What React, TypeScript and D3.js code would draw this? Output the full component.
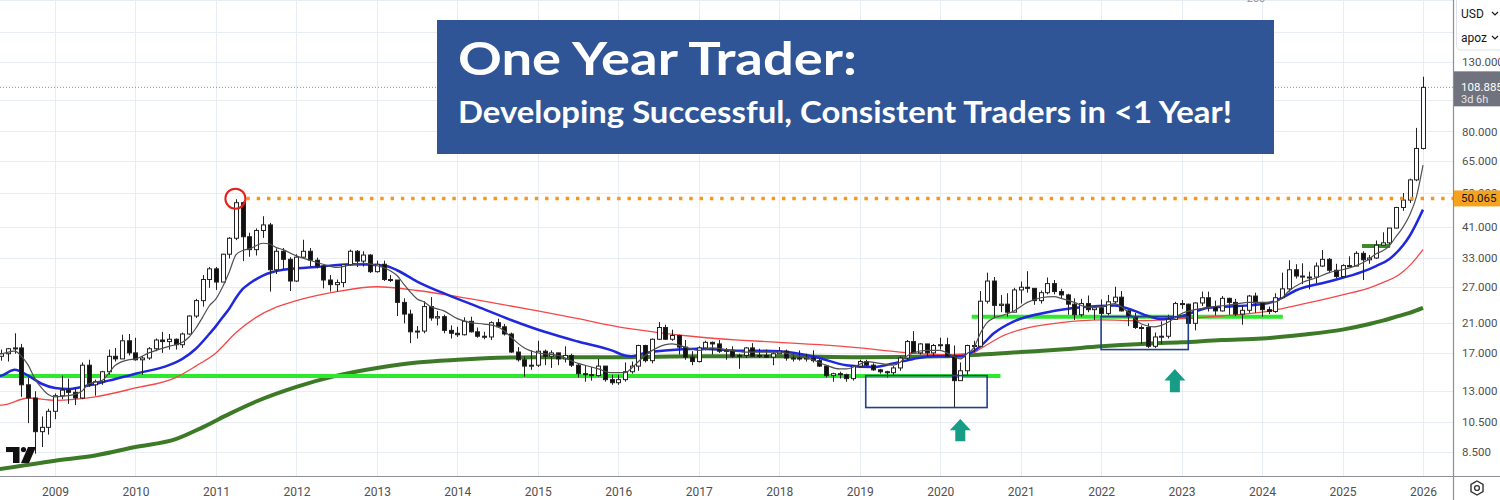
import React, { useEffect, useRef } from 'react';
import * as d3 from 'd3';

const WIDTH = 1500;
const HEIGHT = 500;
const PANE_RIGHT = 1453;
const PANE_BOTTOM = 476;

// Monthly silver candles, Apr 2008 .. Jan 2026. Month index 0 = Jan 2009.
const FIRST_MONTH = -9;
const firstOpen = 17.2;

const closes = [
  16.6, 16.9, 17.5, 17.6, 13.6, 12.4, 9.8, 10.1, 11.3, // 2008 Apr-Dec
  12.6, 13.1, 12.9, 12.4, 15.6, 13.6, 13.9, 14.9, 16.6, 16.3, 18.5, 17.0, // 2009
  16.2, 16.4, 17.5, 18.6, 18.4, 18.7, 18.0, 19.4, 22.0, 24.5, 28.4, 30.6, // 2010
  27.9, 33.9, 37.9, 48.6, 38.3, 35.0, 40.0, 41.6, 30.4, 34.6, 32.7, 28.1, // 2011
  33.2, 34.6, 32.5, 31.2, 28.3, 27.4, 27.8, 31.5, 34.6, 32.3, 33.7, 30.0, // 2012
  31.6, 28.4, 28.3, 24.2, 22.3, 19.7, 19.8, 23.5, 21.7, 21.9, 19.9, 19.5, // 2013
  19.3, 21.2, 19.7, 19.1, 19.0, 21.0, 20.4, 19.4, 17.1, 16.2, 15.5, 15.6, // 2014
  17.2, 16.6, 17.0, 16.3, 16.7, 15.6, 14.7, 14.6, 14.5, 15.5, 14.1, 13.8, // 2015
  14.1, 14.9, 15.5, 17.9, 16.1, 18.7, 20.3, 18.7, 19.2, 17.7, 16.5, 16.0, // 2016
  17.6, 18.3, 18.1, 17.2, 17.3, 16.6, 16.7, 17.6, 16.6, 16.7, 16.5, 16.9, // 2017
  17.2, 16.4, 16.3, 16.4, 16.4, 16.1, 15.5, 14.5, 14.7, 14.6, 14.2, 15.5, // 2018
  16.0, 15.6, 15.1, 14.9, 14.8, 15.3, 16.4, 18.4, 17.0, 18.1, 17.0, 17.9, // 2019
  18.0, 16.6, 14.0, 15.0, 17.9, 17.8, 24.4, 28.1, 23.7, 23.9, 22.6, 26.4, // 2020
  26.9, 26.7, 24.5, 25.9, 27.6, 26.1, 25.5, 23.9, 22.2, 24.0, 23.0, 23.3, // 2021
  22.4, 24.3, 25.1, 22.8, 21.9, 20.3, 20.3, 17.8, 19.0, 19.1, 21.5, 24.0, // 2022
  23.9, 20.9, 24.1, 25.0, 23.5, 22.8, 24.9, 24.2, 22.3, 22.9, 25.3, 24.1, // 2023
  23.0, 22.7, 25.0, 26.6, 30.4, 29.1, 28.9, 28.9, 31.2, 32.7, 30.3, 29.0, // 2024
  31.3, 31.2, 34.1, 32.6, 33.0, 36.1, 36.7, 40.7, 47.0, 49.5, 57.0, 71.0, // 2025
  108.885, // 2026 Jan
];

const highs = [
  18.3, 17.4, 17.6, 19.5, 18.1, 14.3, 13.0, 10.9, 11.5,
  12.8, 14.5, 14.2, 13.3, 15.9, 16.2, 14.1, 15.0, 17.4, 17.6, 19.3, 19.4,
  18.9, 16.6, 17.7, 18.8, 19.7, 19.4, 18.8, 19.6, 22.1, 24.8, 29.3, 31.0,
  31.0, 34.0, 38.2, 49.8, 49.0, 39.4, 40.6, 44.2, 42.2, 35.3, 35.4, 33.2,
  33.9, 37.5, 35.4, 33.1, 31.4, 29.3, 28.4, 31.6, 35.0, 34.9, 34.6, 33.9,
  32.4, 32.4, 29.3, 28.3, 24.9, 23.0, 20.5, 24.4, 25.1, 22.8, 22.2, 20.6,
  20.4, 21.8, 21.9, 20.3, 19.7, 21.2, 21.6, 20.8, 19.6, 17.7, 16.6, 17.3,
  18.5, 17.4, 17.3, 17.0, 17.8, 16.9, 15.8, 15.6, 15.4, 16.3, 15.5, 14.6,
  14.6, 15.9, 16.0, 18.0, 18.0, 18.8, 21.1, 20.7, 20.0, 19.3, 18.6, 17.2,
  17.8, 18.5, 18.4, 18.6, 17.6, 17.8, 16.9, 17.7, 18.2, 17.5, 17.4, 17.1,
  17.7, 17.4, 16.9, 17.3, 16.9, 17.3, 16.3, 15.6, 14.8, 14.9, 14.7, 15.6,
  16.2, 16.2, 15.8, 15.2, 15.0, 15.5, 16.6, 18.6, 19.8, 18.2, 18.1, 18.1,
  18.9, 18.9, 17.9, 15.9, 18.0, 18.5, 26.2, 29.8, 28.9, 25.5, 25.8, 26.8,
  28.0, 30.1, 26.7, 26.3, 28.8, 28.3, 26.6, 25.7, 24.9, 24.8, 25.4, 23.4,
  24.7, 25.5, 27.0, 26.2, 22.9, 22.5, 20.6, 20.9, 19.6, 21.2, 22.2, 24.3,
  24.6, 24.0, 24.2, 26.1, 26.1, 24.5, 25.3, 25.0, 24.8, 23.7, 25.5, 25.9,
  24.3, 23.5, 25.8, 29.8, 32.5, 31.6, 31.8, 30.0, 32.0, 34.9, 33.0, 31.7,
  31.6, 33.4, 34.6, 34.6, 33.7, 37.3, 39.5, 40.7, 47.2, 52.0, 57.5, 82.0,
  117.3,
];

const lows = [
  16.3, 16.1, 16.0, 16.9, 12.5, 10.4, 8.4, 8.8, 9.6,
  10.7, 12.3, 11.9, 11.8, 12.3, 13.4, 12.6, 13.6, 14.6, 16.0, 16.3, 16.7,
  16.1, 14.6, 16.2, 17.2, 17.0, 17.4, 17.4, 17.6, 19.3, 21.7, 23.5, 26.8,
  26.4, 27.9, 32.9, 37.4, 32.3, 33.3, 33.6, 38.0, 26.1, 29.5, 30.5, 26.2,
  27.9, 33.0, 31.1, 30.7, 26.7, 26.1, 26.1, 26.9, 31.2, 31.0, 31.1, 29.7,
  29.8, 28.1, 27.9, 22.0, 20.9, 18.2, 18.8, 19.5, 21.3, 20.6, 19.5, 18.8,
  19.0, 19.2, 19.6, 18.9, 18.7, 18.6, 20.3, 19.2, 17.0, 16.0, 14.4, 15.1,
  15.4, 15.6, 15.3, 15.6, 15.9, 15.4, 14.3, 13.9, 14.0, 14.4, 13.9, 13.6,
  13.6, 13.9, 14.7, 15.0, 15.9, 15.8, 18.6, 18.6, 18.5, 16.8, 16.2, 15.6,
  15.9, 17.3, 16.8, 17.0, 16.2, 16.4, 15.2, 16.4, 16.6, 16.4, 16.4, 15.6,
  16.9, 16.1, 16.0, 16.1, 16.0, 15.9, 15.4, 14.3, 13.9, 14.2, 13.9, 14.0,
  15.4, 15.5, 15.0, 14.7, 14.3, 14.5, 15.0, 16.1, 17.0, 16.8, 16.6, 16.6,
  17.4, 16.5, 11.6, 14.0, 14.6, 17.1, 17.8, 24.0, 21.7, 22.6, 21.9, 22.6,
  24.0, 25.9, 23.8, 24.0, 25.6, 25.6, 24.8, 22.2, 21.4, 21.9, 22.6, 21.4,
  22.0, 22.1, 24.0, 22.7, 20.5, 20.1, 18.1, 17.6, 17.6, 18.1, 18.8, 21.4,
  23.1, 20.4, 19.9, 23.6, 22.7, 22.1, 22.7, 22.2, 22.0, 20.7, 22.5, 22.5,
  21.9, 22.3, 22.5, 24.8, 26.1, 28.6, 27.5, 26.5, 27.7, 31.0, 29.7, 28.7,
  28.8, 31.1, 31.2, 28.3, 31.7, 32.8, 35.9, 36.3, 40.6, 45.9, 48.5, 56.5,
  70.5,
];

// moving averages: [month index, price]
const fastMa = [
  [-9, 16.8], [-8, 16.9], [-6, 17.2], [-5, 16.6], [-4, 15.6], [-3, 14.2], [-2, 13.3], [-1, 12.7],
  [0, 12.5], [2, 12.6], [4, 13.0], [5, 13.7], [7, 14.0], [9, 15.6], [11, 16.2], [12, 16.3],
  [14, 17.0], [17, 17.8], [19, 18.3], [20, 19.0], [21, 20.2], [22, 21.8], [23, 23.6], [24, 24.8],
  [25, 27.0], [26, 30.0], [27, 33.8], [28, 34.8], [29, 35.2], [31, 36.6], [32, 36.4], [33, 35.5],
  [34, 35.0], [36, 33.5], [38, 32.5], [40, 31.6], [42, 30.9], [44, 31.4], [46, 31.8], [48, 31.3],
  [50, 30.2], [51, 29.2], [52, 27.5], [53, 26.0], [54, 24.8], [55, 24.3], [56, 23.5], [58, 22.8],
  [60, 21.6], [62, 21.0], [64, 20.8], [66, 20.4], [67, 19.8], [68, 19.0], [69, 18.2], [70, 17.6],
  [72, 17.0], [75, 16.7], [78, 15.8], [80, 15.4], [81, 15.2], [83, 14.8], [85, 14.8], [86, 15.3],
  [87, 16.0], [88, 16.7], [90, 17.7], [92, 18.1], [94, 17.7], [96, 17.3], [98, 17.6], [100, 17.4],
  [103, 17.1], [108, 17.1], [110, 16.8], [113, 16.2], [115, 15.6], [117, 15.2], [118, 15.2], [120, 15.7],
  [121, 16.0], [123, 15.8], [125, 15.6], [126, 15.9], [127, 16.6], [128, 17.0], [130, 17.3], [132, 17.3],
  [133, 17.0], [134, 16.6], [135, 16.3], [136, 16.9], [137, 17.6], [138, 19.5], [139, 21.0], [140, 21.7],
  [141, 22.0], [143, 22.8], [145, 24.2], [147, 25.0], [149, 25.2], [150, 24.9], [152, 24.2], [154, 23.4],
  [156, 23.5], [158, 24.0], [159, 23.5], [160, 22.6], [161, 21.6], [162, 20.8], [164, 20.4], [165, 20.6],
  [167, 21.7], [168, 22.4], [170, 23.0], [173, 23.5], [176, 23.9], [178, 24.2], [180, 24.2], [182, 24.3],
  [183, 25.0], [184, 26.2], [186, 27.8], [188, 28.7], [190, 29.8], [192, 30.4], [194, 31.3], [196, 32.8],
  [197, 34.0], [198, 34.7], [199, 36.0], [200, 38.4], [201, 40.9], [202, 44.5], [203, 50.5], [204, 63.2],
];

const midMa = [
  [-9, 14.4], [-8, 14.5], [-6, 15.1], [-4, 14.5], [-2, 13.7], [0, 13.3], [2, 13.2], [4, 13.4],
  [8, 14.0], [12, 14.7], [17, 15.6], [19, 16.3], [21, 17.5], [23, 19.4], [24, 20.5], [25, 21.8],
  [26, 23.2], [27, 25.0], [28, 26.6], [29, 27.6], [31, 29.2], [34, 30.4], [39, 31.0], [44, 31.6],
  [49, 31.3], [51, 30.3], [54, 28.0], [59, 25.3], [63, 23.5], [68, 21.4], [73, 19.7], [78, 18.4],
  [83, 17.3], [85, 16.7], [86, 16.6], [88, 17.0], [91, 17.3], [96, 17.5], [101, 17.3], [108, 17.2],
  [113, 16.6], [118, 15.6], [122, 15.4], [125, 15.8], [128, 16.3], [131, 16.6], [135, 16.6], [137, 17.2],
  [138, 17.8], [140, 19.5], [143, 21.2], [148, 22.6], [153, 23.4], [158, 23.7], [161, 22.8], [163, 22.0],
  [165, 21.5], [168, 22.0], [172, 23.3], [178, 23.7], [181, 24.1], [183, 25.0], [185, 26.3], [190, 28.0],
  [195, 30.0], [197, 31.2], [199, 32.8], [201, 36.0], [202, 38.5], [203, 42.0], [204, 46.3],
];

const slowMa = [
  [-9, 11.8], [-8, 11.8], [-4, 12.4], [0, 12.2], [6, 12.5], [12, 13.3], [18, 14.3], [21, 15.5],
  [24, 17.0], [27, 19.6], [30, 21.8], [33, 23.4], [36, 24.5], [42, 26.1], [48, 27.0], [54, 26.3],
  [60, 25.2], [66, 24.0], [72, 22.8], [78, 21.6], [84, 20.4], [90, 19.6], [96, 19.0], [102, 18.6],
  [108, 18.3], [114, 18.0], [120, 17.6], [126, 17.1], [132, 16.8], [135, 16.8], [137, 17.0], [138, 17.5],
  [140, 18.5], [141, 19.0], [144, 20.0], [150, 21.0], [156, 21.4], [162, 21.3], [168, 21.6], [174, 22.0],
  [180, 22.6], [186, 23.9], [192, 25.5], [196, 26.8], [198, 27.8], [200, 29.0], [201, 30.0], [202, 31.3],
  [203, 33.0], [204, 35.0],
];

const longMa = [
  [-9, 7.5], [0, 8.0], [6, 8.3], [12, 8.8], [18, 9.3], [22, 10.1], [26, 11.1], [30, 12.1],
  [36, 13.4], [42, 14.5], [48, 15.3], [54, 15.9], [60, 16.2], [72, 16.5], [84, 16.5], [96, 16.6],
  [108, 16.6], [120, 16.5], [132, 16.6], [138, 16.8], [144, 17.1], [150, 17.4], [156, 17.8], [162, 18.1],
  [168, 18.3], [174, 18.6], [180, 18.8], [186, 19.3], [192, 20.0], [196, 20.8], [198, 21.3], [200, 21.9],
  [202, 22.5], [204, 23.3],
];

// grid levels; the ones under the selector box and last-price tag carry no label
const gridTicks = [200, 160, 130, 100, 80, 65, 52, 41, 33, 27, 21, 17, 13, 10.5, 8.5];
const priceTicks = [130, 80, 65, 52, 41, 33, 27, 21, 17, 13, 10.5, 8.5];
const yearTicks = [2009, 2010, 2011, 2012, 2013, 2014, 2015, 2016, 2017, 2018, 2019, 2020, 2021, 2022, 2023, 2024, 2025, 2026];

const lastPrice = 108.885;
const athPrice = 50.065;

// annotations, in [month, price]
const supportLow = { from: -12, to: 141, price: 14.47 };
const supportMid = { from: 136.7, to: 183.1, price: 21.9 };
const breakoutLine = { from: 194.9, to: 199.1, price: 35.9 };
const boxes = [
  { m0: 120.9, m1: 139, p0: 14.5, p1: 11.6 },
  { m0: 156, m1: 169, p0: 21.9, p1: 17.4 },
];
const arrows = [
  { m: 135, top: 10.7, bottom: 9.16 },
  { m: 167, top: 15.2, bottom: 12.9 },
];
const peak = { m: 26.9, price: 50.0 };

const xs = d3.scaleLinear().domain([0, 204]).range([55, 1423]);
const ys = d3.scaleLog().domain([8.5, 130]).range([452, 62]);

const candles = closes.map((c, i) => ({
  m: FIRST_MONTH + i,
  o: i === 0 ? firstOpen : closes[i - 1],
  h: highs[i],
  l: lows[i],
  c,
}));

const maLine = d3.line<number[]>()
  .x(d => xs(d[0]))
  .y(d => ys(d[1]))
  .curve(d3.curveMonotoneX);

const gridColor = '#e8edf4';
const axisFont = 'Roboto, "DejaVu Sans", sans-serif';

const App = () => {
  const yAxisRef = useRef<SVGGElement>(null);
  const xAxisRef = useRef<SVGGElement>(null);

  useEffect(() => {
    if (yAxisRef.current) {
      const g = d3.select(yAxisRef.current);
      g.call(d3.axisRight(ys).tickValues(priceTicks).tickFormat(d => (+d).toFixed(3)).tickSize(0).tickPadding(9) as any);
      g.select('.domain').remove();
      g.selectAll('text')
        .attr('fill', '#505050')
        .style('font-family', axisFont)
        .style('font-size', '11.5px');
    }
    if (xAxisRef.current) {
      const g = d3.select(xAxisRef.current);
      g.call(d3.axisBottom(xs)
        .tickValues(yearTicks.map(y => (y - 2009) * 12))
        .tickFormat(d => String(2009 + (+d) / 12))
        .tickSize(0)
        .tickPadding(9) as any);
      g.select('.domain').remove();
      g.selectAll('text')
        .attr('fill', '#505050')
        .style('font-family', axisFont)
        .style('font-size', '12px');
    }
  }, []);

  const bodyW = 4;

  return (
    <svg width={WIDTH} height={HEIGHT} style={{ position: 'absolute', left: 0, top: 0, background: '#fff' }}>
      <defs>
        <clipPath id="pane">
          <rect x={0} y={0} width={PANE_RIGHT} height={PANE_BOTTOM} />
        </clipPath>
      </defs>

      <rect x={0} y={0} width={WIDTH} height={HEIGHT} fill="#fff" />

      {/* grid */}
      <g clipPath="url(#pane)">
        {gridTicks.map(p => (
          <line key={'h' + p} x1={0} x2={PANE_RIGHT} y1={Math.round(ys(p)) + 0.5} y2={Math.round(ys(p)) + 0.5} stroke={gridColor} />
        ))}
        {yearTicks.map(y => (
          <line key={'v' + y} x1={Math.round(xs((y - 2009) * 12)) + 0.5} x2={Math.round(xs((y - 2009) * 12)) + 0.5} y1={0} y2={PANE_BOTTOM} stroke={gridColor} />
        ))}
      </g>

      <g clipPath="url(#pane)">
        {/* last price line */}
        <line x1={0} x2={PANE_RIGHT} y1={ys(lastPrice)} y2={ys(lastPrice)} stroke="#8a8d96" strokeWidth={1} strokeDasharray="1,2" />

        {/* long MA */}
        <path d={maLine(longMa) || ''} fill="none" stroke="#3d7a28" strokeWidth={4} />

        {/* support lines */}
        <line x1={xs(supportLow.from)} x2={xs(supportLow.to)} y1={ys(supportLow.price)} y2={ys(supportLow.price)} stroke="#2ee82e" strokeWidth={4} />
        <line x1={xs(supportMid.from)} x2={xs(supportMid.to)} y1={ys(supportMid.price)} y2={ys(supportMid.price)} stroke="#2ee82e" strokeWidth={4} />
        <line x1={xs(breakoutLine.from)} x2={xs(breakoutLine.to)} y1={ys(breakoutLine.price)} y2={ys(breakoutLine.price)} stroke="#3d8a2a" strokeWidth={4} />

        {/* slow + mid MA */}
        <path d={maLine(slowMa) || ''} fill="none" stroke="#f44848" strokeWidth={1.3} />
        <path d={maLine(midMa) || ''} fill="none" stroke="#1f28dc" strokeWidth={2.5} />

        {/* candles */}
        {candles.map(k => {
          const cx = Math.round(xs(k.m));
          const up = k.c >= k.o;
          const top = ys(Math.max(k.o, k.c));
          const bot = ys(Math.min(k.o, k.c));
          const hTop = ys(Math.max(k.h, k.o, k.c));
          const lBot = ys(Math.min(k.l, k.o, k.c));
          return (
            <g key={k.m}>
              <line x1={cx + 0.5} x2={cx + 0.5} y1={hTop} y2={lBot} stroke="#222" strokeWidth={1} />
              <rect
                x={cx - bodyW / 2 + 0.5}
                y={top}
                width={bodyW}
                height={Math.max(1, bot - top)}
                fill={up ? '#fff' : '#111'}
                stroke="#222"
                strokeWidth={1}
              />
            </g>
          );
        })}

        {/* fast MA */}
        <path d={maLine(fastMa) || ''} fill="none" stroke="#505050" strokeWidth={1.2} />

        {/* boxes */}
        {boxes.map((b, i) => (
          <rect key={'b' + i}
            x={xs(b.m0)} y={ys(b.p0)}
            width={xs(b.m1) - xs(b.m0)} height={ys(b.p1) - ys(b.p0)}
            fill="none" stroke="#213f8c" strokeWidth={1.6} />
        ))}

        {/* arrows */}
        {arrows.map((a, i) => {
          const cx = xs(a.m);
          const t = ys(a.top);
          const b = ys(a.bottom);
          const headH = (b - t) * 0.5;
          const p = `M${cx},${t} L${cx + 10.5},${t + headH} L${cx + 5},${t + headH} L${cx + 5},${b} L${cx - 5},${b} L${cx - 5},${t + headH} L${cx - 10.5},${t + headH} Z`;
          return <path key={'a' + i} d={p} fill="#179c85" />;
        })}

        {/* all time high marker */}
        <line x1={xs(peak.m) + 11} x2={PANE_RIGHT} y1={ys(athPrice)} y2={ys(athPrice)} stroke="#f7951d" strokeWidth={3.4} strokeDasharray="3.4,6.9" />
        <circle cx={xs(peak.m)} cy={ys(peak.price)} r={10} fill="none" stroke="#e3201c" strokeWidth={2} />

        {/* logo */}
        <g fill="#111">
          <path d="M6,447 H19.5 V463 H13 V452 H6 Z" />
          <circle cx={23.5} cy={449.5} r={2.6} />
          <path d="M28,447 H36 L29,463 H21 Z" />
        </g>
      </g>

      {/* title banner */}
      <rect x={437} y={20} width={837} height={134} fill="#2f5597" />
      <text x={458} y={75} fill="#fff" fontFamily="Lato, 'Open Sans', sans-serif" fontWeight={700} fontSize={46} textLength={399} lengthAdjust="spacingAndGlyphs">One Year Trader:</text>
      <text x={458} y={123} fill="#fff" fontFamily="Lato, 'Open Sans', sans-serif" fontWeight={700} fontSize={30} textLength={774} lengthAdjust="spacingAndGlyphs">Developing Successful, Consistent Traders in &lt;1 Year!</text>

      <text x={1256} y={2} textAnchor="middle" fill="#9a9a9a" fontFamily={axisFont} fontSize={11}>200</text>

      {/* axes frame */}
      <rect x={PANE_RIGHT} y={0} width={WIDTH - PANE_RIGHT} height={HEIGHT} fill="#fff" />
      <rect x={0} y={PANE_BOTTOM} width={WIDTH} height={HEIGHT - PANE_BOTTOM} fill="#fff" />
      <g ref={yAxisRef} transform={`translate(${PANE_RIGHT},0)`} />
      <g ref={xAxisRef} transform={`translate(0,${PANE_BOTTOM + 2})`} />
      <line x1={PANE_RIGHT + 0.5} x2={PANE_RIGHT + 0.5} y1={0} y2={HEIGHT} stroke="#8c8f97" strokeWidth={1.2} />
      <line x1={0} x2={WIDTH} y1={PANE_BOTTOM + 0.5} y2={PANE_BOTTOM + 0.5} stroke="#8c8f97" strokeWidth={1.2} />

      {/* currency / unit selectors */}
      <rect x={1456.5} y={-4} width={50} height={54} rx={4} fill="#fff" stroke="#e0e3eb" />
      <text x={1461} y={18} fill="#131722" fontFamily={axisFont} fontSize={12}>USD</text>
      <text x={1461} y={42} fill="#131722" fontFamily={axisFont} fontSize={12}>apoz</text>
      <path d="M1492,12 L1495,15 L1498,12" fill="none" stroke="#131722" strokeWidth={1.2} />
      <path d="M1492,36 L1495,39 L1498,36" fill="none" stroke="#131722" strokeWidth={1.2} />

      {/* last price tag */}
      <rect x={PANE_RIGHT + 1} y={ys(lastPrice) - 16} width={WIDTH - PANE_RIGHT} height={35} fill="#70737e" />
      <text x={1461} y={ys(lastPrice) + 4} fill="#fff" fontFamily={axisFont} fontSize={11.5}>{lastPrice.toFixed(3)}</text>
      <text x={1461} y={ys(lastPrice) + 16} fill="#e6e6e6" fontFamily={axisFont} fontSize={11}>3d 6h</text>

      {/* ATH tag */}
      <rect x={PANE_RIGHT + 1} y={ys(athPrice) - 8} width={WIDTH - PANE_RIGHT} height={16} fill="#f7a21c" />
      <text x={1461} y={ys(athPrice) + 4} fill="#131722" fontFamily={axisFont} fontSize={11.5}>{athPrice.toFixed(3)}</text>

      {/* settings icon */}
      <g transform="translate(1477,488)" fill="none" stroke="#333" strokeWidth={1.4}>
        <path d="M0,-7 L6,-3.5 L6,3.5 L0,7 L-6,3.5 L-6,-3.5 Z" />
        <circle r={2.4} />
      </g>
    </svg>
  );
};

export default App;
